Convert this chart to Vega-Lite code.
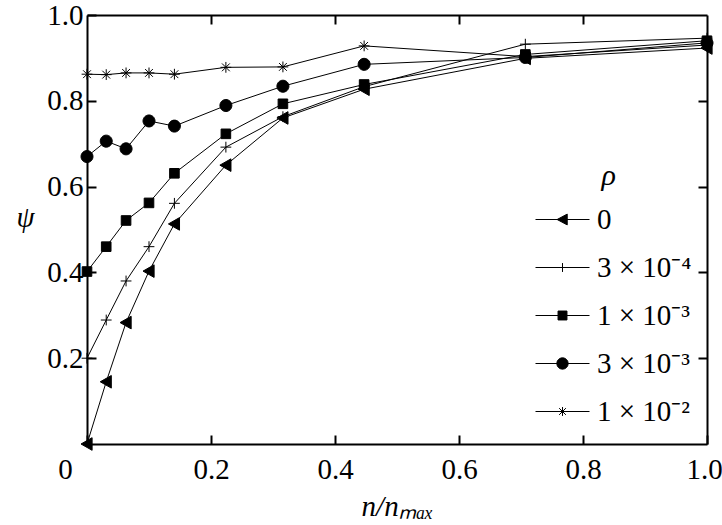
{
  "$schema": "https://vega.github.io/schema/vega-lite/v6.json",
  "width": 620,
  "height": 429,
  "autosize": "none",
  "padding": {"left": 87, "top": 15, "right": 15, "bottom": 81},
  "background": "white",
  "config": {
    "view": {"stroke": null},
    "legend": {"symbolStrokeColor": "black", "symbolStrokeWidth": 1, "symbolBaseStrokeColor": "black"},
    "axis": {
      "grid": false,
      "labelFont": "Liberation Serif, Times New Roman, Times, serif",
      "labelFontSize": 29,
      "labelColor": "black",
      "labelFlush": false,
      "labelOverlap": false,
      "domainColor": "black",
      "domainWidth": 2,
      "tickColor": "black",
      "tickWidth": 2,
      "tickSize": -9,
      "titleFont": "Liberation Serif, Times New Roman, Times, serif",
      "titleFontSize": 29,
      "titleFontWeight": "normal",
      "titleFontStyle": "italic",
      "titleColor": "black"
    }
  },
  "data": {
    "values": [
      {"x": 0, "psi": 0, "rho": "0"},
      {"x": 0.031, "psi": 0.145, "rho": "0"},
      {"x": 0.063, "psi": 0.283, "rho": "0"},
      {"x": 0.1, "psi": 0.403, "rho": "0"},
      {"x": 0.141, "psi": 0.513, "rho": "0"},
      {"x": 0.224, "psi": 0.65, "rho": "0"},
      {"x": 0.316, "psi": 0.76, "rho": "0"},
      {"x": 0.447, "psi": 0.827, "rho": "0"},
      {"x": 0.707, "psi": 0.899, "rho": "0"},
      {"x": 1.0, "psi": 0.923, "rho": "0"},
      {"x": 0, "psi": 0.2, "rho": "3 × 10⁻⁴"},
      {"x": 0.031, "psi": 0.289, "rho": "3 × 10⁻⁴"},
      {"x": 0.063, "psi": 0.38, "rho": "3 × 10⁻⁴"},
      {"x": 0.1, "psi": 0.46, "rho": "3 × 10⁻⁴"},
      {"x": 0.141, "psi": 0.561, "rho": "3 × 10⁻⁴"},
      {"x": 0.224, "psi": 0.692, "rho": "3 × 10⁻⁴"},
      {"x": 0.316, "psi": 0.763, "rho": "3 × 10⁻⁴"},
      {"x": 0.447, "psi": 0.833, "rho": "3 × 10⁻⁴"},
      {"x": 0.707, "psi": 0.932, "rho": "3 × 10⁻⁴"},
      {"x": 1.0, "psi": 0.946, "rho": "3 × 10⁻⁴"},
      {"x": 0, "psi": 0.402, "rho": "1 × 10⁻³"},
      {"x": 0.031, "psi": 0.46, "rho": "1 × 10⁻³"},
      {"x": 0.063, "psi": 0.521, "rho": "1 × 10⁻³"},
      {"x": 0.1, "psi": 0.562, "rho": "1 × 10⁻³"},
      {"x": 0.141, "psi": 0.631, "rho": "1 × 10⁻³"},
      {"x": 0.224, "psi": 0.723, "rho": "1 × 10⁻³"},
      {"x": 0.316, "psi": 0.793, "rho": "1 × 10⁻³"},
      {"x": 0.447, "psi": 0.838, "rho": "1 × 10⁻³"},
      {"x": 0.707, "psi": 0.908, "rho": "1 × 10⁻³"},
      {"x": 1.0, "psi": 0.94, "rho": "1 × 10⁻³"},
      {"x": 0, "psi": 0.67, "rho": "3 × 10⁻³"},
      {"x": 0.031, "psi": 0.706, "rho": "3 × 10⁻³"},
      {"x": 0.063, "psi": 0.688, "rho": "3 × 10⁻³"},
      {"x": 0.1, "psi": 0.753, "rho": "3 × 10⁻³"},
      {"x": 0.141, "psi": 0.741, "rho": "3 × 10⁻³"},
      {"x": 0.224, "psi": 0.789, "rho": "3 × 10⁻³"},
      {"x": 0.316, "psi": 0.834, "rho": "3 × 10⁻³"},
      {"x": 0.447, "psi": 0.885, "rho": "3 × 10⁻³"},
      {"x": 0.707, "psi": 0.901, "rho": "3 × 10⁻³"},
      {"x": 1.0, "psi": 0.935, "rho": "3 × 10⁻³"},
      {"x": 0, "psi": 0.862, "rho": "1 × 10⁻²"},
      {"x": 0.031, "psi": 0.861, "rho": "1 × 10⁻²"},
      {"x": 0.063, "psi": 0.865, "rho": "1 × 10⁻²"},
      {"x": 0.1, "psi": 0.865, "rho": "1 × 10⁻²"},
      {"x": 0.141, "psi": 0.862, "rho": "1 × 10⁻²"},
      {"x": 0.224, "psi": 0.878, "rho": "1 × 10⁻²"},
      {"x": 0.316, "psi": 0.879, "rho": "1 × 10⁻²"},
      {"x": 0.447, "psi": 0.928, "rho": "1 × 10⁻²"},
      {"x": 0.707, "psi": 0.903, "rho": "1 × 10⁻²"},
      {"x": 1.0, "psi": 0.93, "rho": "1 × 10⁻²"}
    ]
  },
  "resolve": {
    "scale": {"shape": "independent"},
    "axis": {"x": "independent", "y": "independent"}
  },
  "layer": [
    {
      "mark": {"type": "line", "color": "black", "strokeWidth": 1},
      "encoding": {
        "x": {
          "field": "x", "type": "quantitative",
          "scale": {"domain": [0, 1], "nice": false, "zero": false},
          "axis": {
            "orient": "bottom",
            "values": [0, 0.2, 0.4, 0.6, 0.8, 1.0],
            "labelExpr": "datum.value === 0 ? '0' : format(datum.value, '.1f')",
            "labelPadding": 20,
            "labelOffset": {"condition": [{"test": "datum.value === 0", "value": -22}, {"test": "datum.value === 1", "value": -3}], "value": 0},
            "title": "n/nₘₐₓ",
            "titlePadding": 8
          }
        },
        "y": {
          "field": "psi", "type": "quantitative",
          "scale": {"domain": [0, 1], "nice": false, "zero": false},
          "axis": {
            "orient": "left",
            "values": [0.2, 0.4, 0.6, 0.8, 1.0],
            "labelExpr": "format(datum.value, '.1f')",
            "labelPadding": 13,
            "title": "ψ",
            "titleAngle": 0,
            "titleAlign": "center",
            "titleBaseline": "middle",
            "titleX": -62,
            "titleY": 202
          }
        },
        "detail": {"field": "rho"}
      }
    },
    {
      "mark": {"type": "point", "filled": true, "fill": "black", "stroke": "black", "strokeWidth": 1, "opacity": 1, "size": 144},
      "encoding": {
        "x": {
          "field": "x", "type": "quantitative",
          "axis": {"orient": "top", "values": [0.2, 0.4, 0.6, 0.8], "labels": false, "title": null}
        },
        "y": {
          "field": "psi", "type": "quantitative",
          "axis": {"orient": "right", "values": [0.2, 0.4, 0.6, 0.8], "labels": false, "title": null}
        },
        "shape": {
          "field": "rho", "type": "nominal",
          "scale": {
            "domain": ["0", "3 × 10⁻⁴", "1 × 10⁻³", "3 × 10⁻³", "1 × 10⁻²"],
            "range": [
              "M-1,0L0.85,-1.05L0.85,1.05Z",
              "M-0.9,0L0.9,0M0,-0.9L0,0.9",
              "M-0.8,-0.8L0.8,-0.8L0.8,0.8L-0.8,0.8Z",
              "M-1,0A1,1,0,1,0,1,0A1,1,0,1,0,-1,0Z",
              "M-0.9,0L0.9,0M0,-0.9L0,0.9M-0.65,-0.65L0.65,0.65M-0.65,0.65L0.65,-0.65"
            ]
          },
          "legend": null
        }
      }
    },
    {
      "transform": [{"filter": "false"}],
      "mark": {"type": "point", "filled": true, "fill": "black", "stroke": "black", "strokeWidth": 1, "opacity": 1, "size": 729},
      "encoding": {
        "x": {"field": "x", "type": "quantitative", "axis": null},
        "y": {"field": "psi", "type": "quantitative", "axis": null},
        "shape": {
          "field": "rho", "type": "nominal",
          "scale": {
            "domain": ["0", "3 × 10⁻⁴", "1 × 10⁻³", "3 × 10⁻³", "1 × 10⁻²"],
            "range": [
              "M-2,0L2,0M-0.4,0L0.35,-0.4L0.35,0.4Z",
              "M-2,0L2,0M0,-0.33L0,0.33",
              "M-2,0L2,0M-0.33,-0.33L0.33,-0.33L0.33,0.33L-0.33,0.33Z",
              "M-2,0L2,0M-0.42,0A0.42,0.42,0,1,0,0.42,0A0.42,0.42,0,1,0,-0.42,0Z",
              "M-2,0L2,0M0,-0.33L0,0.33M-0.25,-0.25L0.25,0.25M-0.25,0.25L0.25,-0.25"
            ]
          },
          "legend": {
            "orient": "none",
            "legendX": 461,
            "legendY": 146,
            "title": "ρ\u00a0\u00a0\u00a0\u200b",
            "titleFont": "Liberation Serif, Times New Roman, Times, serif",
            "titleFontStyle": "italic",
            "titleFontSize": 30,
            "titleFontWeight": "normal",
            "titleColor": "black",
            "titleAnchor": "middle",
            "titlePadding": 14,
            "labelFont": "Liberation Serif, Times New Roman, Times, serif",
            "labelFontSize": 29,
            "labelColor": "black",
            "labelOffset": 20,
            "labelLimit": 300,
            "symbolSize": 729,
            "symbolStrokeWidth": 1,
            "symbolStrokeColor": "black",
            "symbolFillColor": "black",
            "symbolOpacity": 1,
            "rowPadding": 18,
            "padding": 0,
            "encoding": {
              "symbols": {
                "stroke": {"value": "black"},
                "strokeWidth": {"value": 1},
                "fill": {"value": "black"}
              }
            }
          }
        }
      }
    }
  ]
}
